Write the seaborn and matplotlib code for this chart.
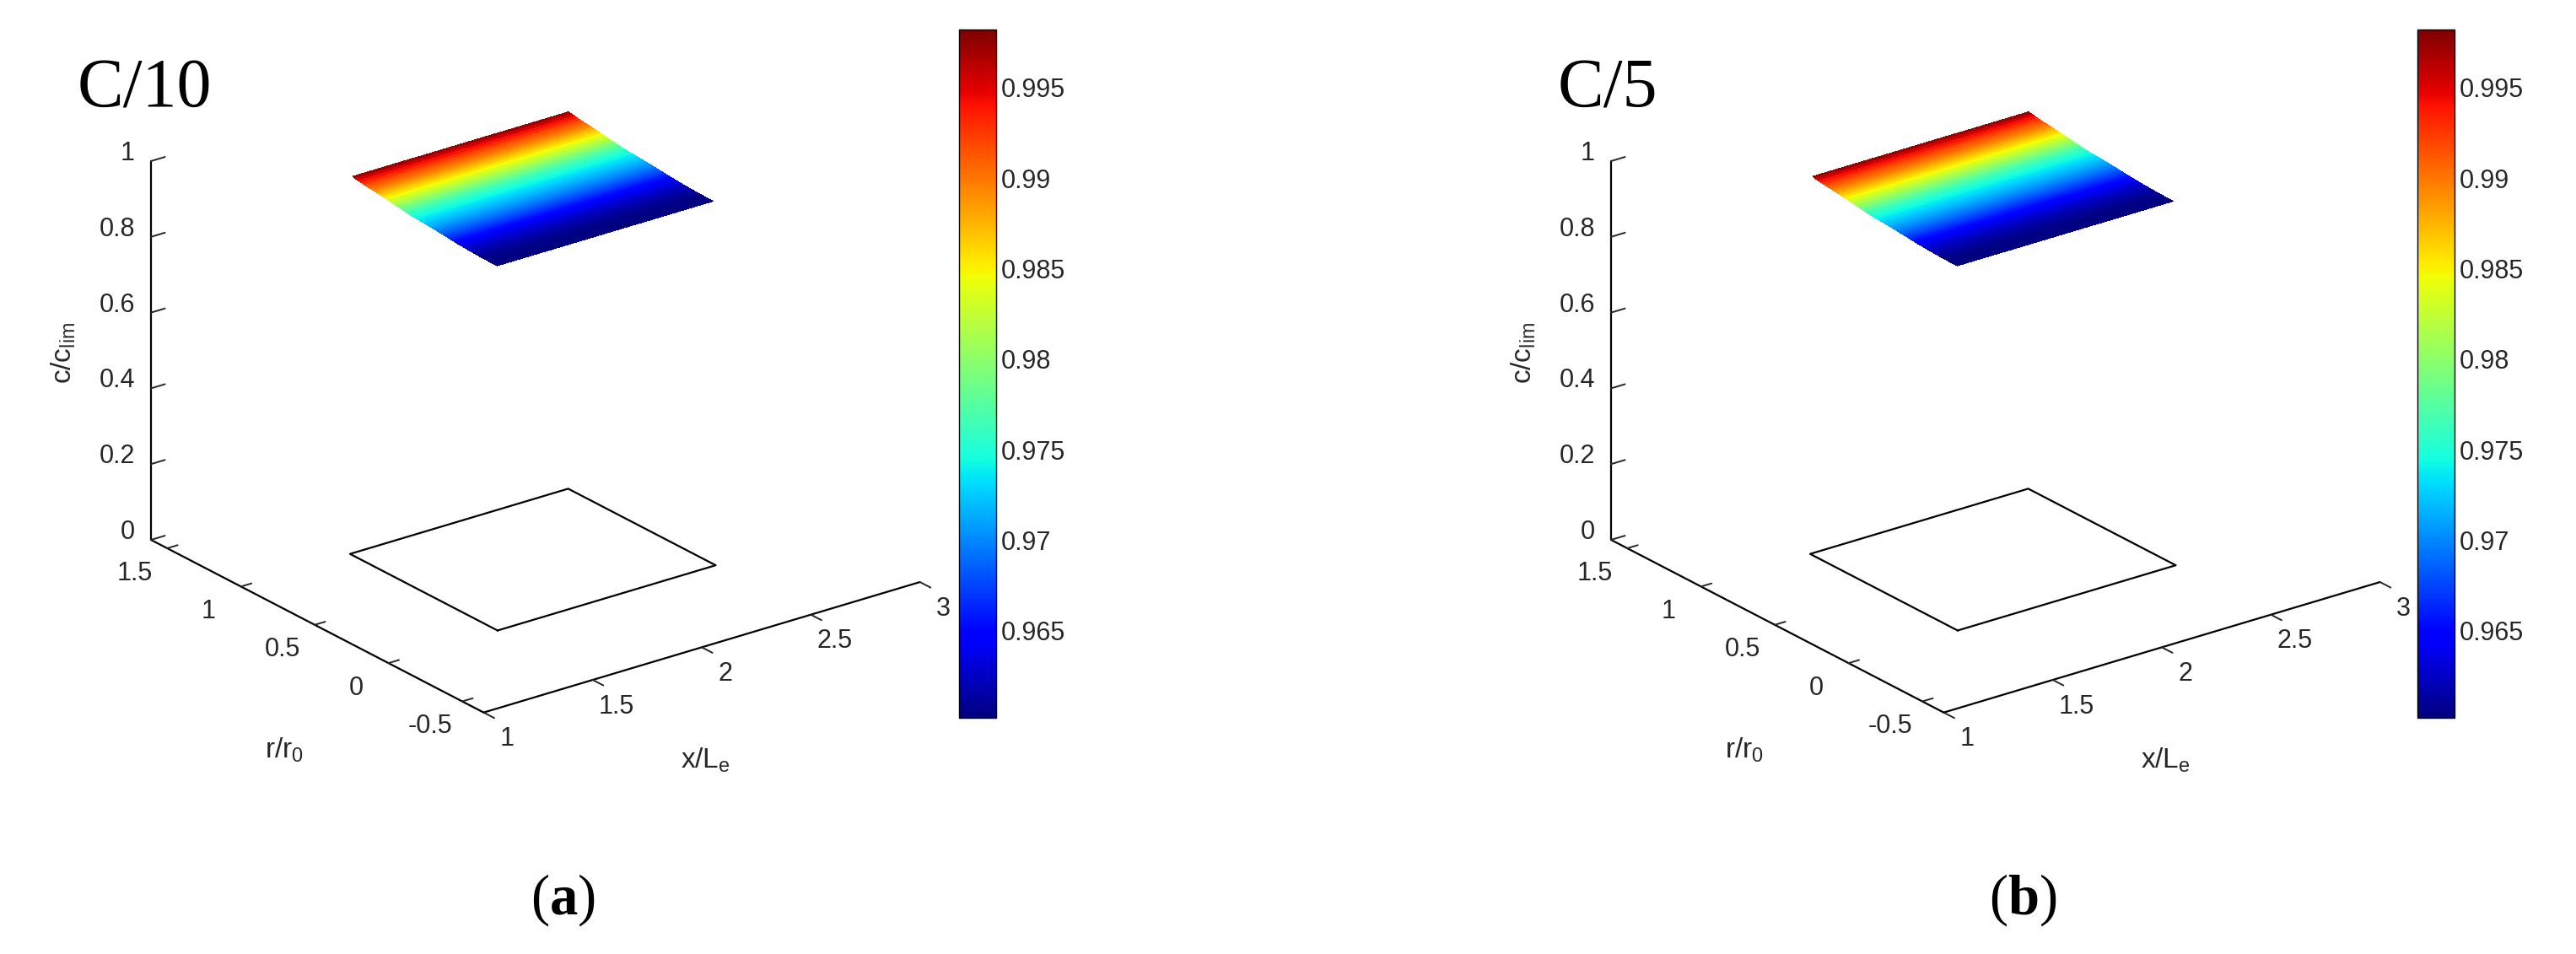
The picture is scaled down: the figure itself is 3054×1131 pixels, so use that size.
import numpy as np
import matplotlib
matplotlib.use("Agg")
import matplotlib.pyplot as plt
from matplotlib.cm import ScalarMappable
from matplotlib.colors import Normalize
from mpl_toolkits.mplot3d import proj3d
import seaborn as sns

WIDTH, HEIGHT = 3054, 1131

panel_titles = ["C/10", "C/5"]
panel_letters = ["a", "b"]

x_ticks = [1, 1.5, 2, 2.5, 3]
x_labels = ["1", "1.5", "2", "2.5", "3"]
r_ticks = [-0.5, 0, 0.5, 1, 1.5]
r_labels = ["-0.5", "0", "0.5", "1", "1.5"]
z_ticks = [0, 0.2, 0.4, 0.6, 0.8, 1]
z_labels = ["0", "0.2", "0.4", "0.6", "0.8", "1"]
cbar_ticks = [0.965, 0.97, 0.975, 0.98, 0.985, 0.99, 0.995]
cbar_labels = ["0.965", "0.97", "0.975", "0.98", "0.985", "0.99", "0.995"]

x_surface = [1.505, 2.495]
r_surface = np.linspace(0.01, 0.99, 50)
conc_a = [0.9602, 0.9602, 0.9603, 0.9604, 0.9605, 0.9607, 0.9610, 0.9613, 0.9617, 0.9621,
          0.9625, 0.9630, 0.9636, 0.9642, 0.9649, 0.9657, 0.9665, 0.9673, 0.9681, 0.9688,
          0.9695, 0.9702, 0.9709, 0.9716, 0.9722, 0.9728, 0.9734, 0.9739, 0.9745, 0.9751,
          0.9760, 0.9770, 0.9781, 0.9793, 0.9805, 0.9816, 0.9828, 0.9839, 0.9851, 0.9862,
          0.9873, 0.9884, 0.9894, 0.9904, 0.9913, 0.9923, 0.9935, 0.9948, 0.9962, 0.9979]
conc_b = [0.9602, 0.9602, 0.9603, 0.9604, 0.9605, 0.9607, 0.9610, 0.9613, 0.9617, 0.9621,
          0.9625, 0.9630, 0.9636, 0.9642, 0.9649, 0.9657, 0.9665, 0.9673, 0.9681, 0.9688,
          0.9695, 0.9702, 0.9709, 0.9716, 0.9722, 0.9728, 0.9734, 0.9739, 0.9745, 0.9751,
          0.9760, 0.9770, 0.9781, 0.9793, 0.9805, 0.9816, 0.9828, 0.9839, 0.9851, 0.9862,
          0.9873, 0.9884, 0.9894, 0.9904, 0.9913, 0.9923, 0.9935, 0.9948, 0.9962, 0.9979]
conc_panels = [conc_a, conc_b]

x_base = [1.5, 2.5, 2.5, 1.5, 1.5]
r_base = [0, 0, 1, 1, 0]
z_base = [0, 0, 0, 0, 0]

x_lim = (1, 3)
r_lim = (-0.645, 1.61)
cbar_lim = (0.9602, 0.9982)

sns.set_theme(style="white")
plt.rcParams["font.family"] = ["Liberation Sans", "DejaVu Sans"]
plt.rcParams["mathtext.fontset"] = "custom"
plt.rcParams["mathtext.rm"] = "Liberation Sans"
plt.rcParams["mathtext.bf"] = "Liberation Serif:bold"

# seaborn refuses to hand out jet, so it comes from matplotlib
jet = matplotlib.colormaps["jet"]
text_color = "#262626"

fig = plt.figure(figsize=(WIDTH / 100, HEIGHT / 100), dpi=100, facecolor="white")


def fit_axes(ax, x_px, bottom_px, top_px):
    # scale and move the square 3d axes so the z axis lands on these pixels
    ax.set_position([0, 0, 1000 / WIDTH, 1000 / HEIGHT])
    ax.apply_aspect()
    m = ax.get_proj()
    xs, ys, _ = proj3d.proj_transform(
        np.array([x_lim[0], x_lim[0]]), np.array([r_lim[1], r_lim[1]]), np.array([0.0, 1.0]), m
    )
    pts = ax.transData.transform(np.column_stack([xs, ys]))
    scale = abs((bottom_px - top_px) / (pts[1, 1] - pts[0, 1]))
    size = 1000 * scale
    left = x_px - pts[0, 0] * scale
    bottom = (HEIGHT - bottom_px) - pts[0, 1] * scale
    ax.set_position([left / WIDTH, bottom / HEIGHT, size / WIDTH, size / HEIGHT])


def px_text(x_px, y_px, s, **kwargs):
    fig.text(x_px / WIDTH, 1 - y_px / HEIGHT, s, ha=kwargs.pop("ha", "center"), va="center", **kwargs)


z_axis_px = [179, 1910]
cbar_left_px = [1137, 2866]
title_left_px = [92, 1847]
letter_center_px = [667, 2398]

for i in range(2):
    ax = fig.add_subplot(1, 2, i + 1, projection="3d", proj_type="ortho", computed_zorder=False)
    ax.set_facecolor("none")
    ax.view_init(elev=23.2, azim=-127.2)
    ax.set_box_aspect((650, 653, 489))
    ax.set_xlim(*x_lim, view_margin=0)
    ax.set_ylim(*r_lim, view_margin=0)
    ax.set_zlim(0, 1, view_margin=0)
    fit_axes(ax, z_axis_px[i], 640, 191)

    xg, rg = np.meshgrid(x_surface, r_surface)
    zg = np.column_stack([conc_panels[i], conc_panels[i]])
    ax.plot_surface(xg, rg, zg, cmap=jet, vmin=cbar_lim[0], vmax=cbar_lim[1],
                    rstride=1, cstride=1, linewidth=0, antialiased=False)
    ax.plot(x_base, r_base, z_base, color="black", lw=1.6)

    ax.set_xticks(x_ticks, x_labels)
    ax.set_yticks(r_ticks, r_labels)
    ax.set_zticks(z_ticks, z_labels)
    ax.grid(False)
    for axis in (ax.xaxis, ax.yaxis, ax.zaxis):
        axis.set_pane_color((1, 1, 1, 0))
        axis.pane.set_edgecolor((1, 1, 1, 0))
        axis.line.set_color("black")
        axis.line.set_linewidth(1.6)
        axis._axinfo["tick"]["linewidth"] = {True: 1.4, False: 1.0}
        axis._axinfo["tick"]["color"] = "black"
    ax.xaxis._axinfo["tick"].update(inward_factor=0.4, outward_factor=0)
    ax.yaxis._axinfo["tick"].update(inward_factor=0, outward_factor=0.3)
    ax.zaxis._axinfo["tick"].update(inward_factor=0, outward_factor=0.4)
    ax.tick_params(axis="x", labelsize=22, colors=text_color, pad=19)
    ax.tick_params(axis="y", labelsize=22, colors=text_color, pad=20)
    ax.tick_params(axis="z", labelsize=22, colors=text_color, pad=0)
    for t in ax.xaxis.get_ticklabels() + ax.yaxis.get_ticklabels():
        t.set_va("bottom")
    for t in ax.zaxis.get_ticklabels():
        t.set_va("baseline")
        t.set_ha("right")

    px_text(z_axis_px[i] + 657, 901, r"$\mathdefault{x/L_e}$", fontsize=24, color=text_color)
    px_text(z_axis_px[i] + 158, 889, r"$\mathdefault{r/r_0}$", fontsize=24, color=text_color)
    px_text(z_axis_px[i] - 104, 418, r"$\mathdefault{c/c_{lim}}$", fontsize=24, color=text_color, rotation=90)

    cax = fig.add_axes([cbar_left_px[i] / WIDTH, (HEIGHT - 851) / HEIGHT, 44 / WIDTH, 816 / HEIGHT])
    sm = ScalarMappable(norm=Normalize(*cbar_lim), cmap=jet)
    cb = fig.colorbar(sm, cax=cax)
    cb.set_ticks(cbar_ticks, labels=cbar_labels)
    cb.ax.tick_params(direction="in", length=7, width=1.2, labelsize=22, pad=4,
                      right=True, color="black", labelcolor=text_color)
    cb.outline.set_edgecolor("black")
    cb.outline.set_linewidth(1.0)

    px_text(title_left_px[i], 107, panel_titles[i], fontsize=59,
            family="Liberation Serif", color="black", ha="left")
    px_text(letter_center_px[i], 1067, "($\\mathbf{%s}$)" % panel_letters[i],
            fontsize=48, family="Liberation Serif", color="black")

fig.savefig("out.png", dpi=100, facecolor="white")
